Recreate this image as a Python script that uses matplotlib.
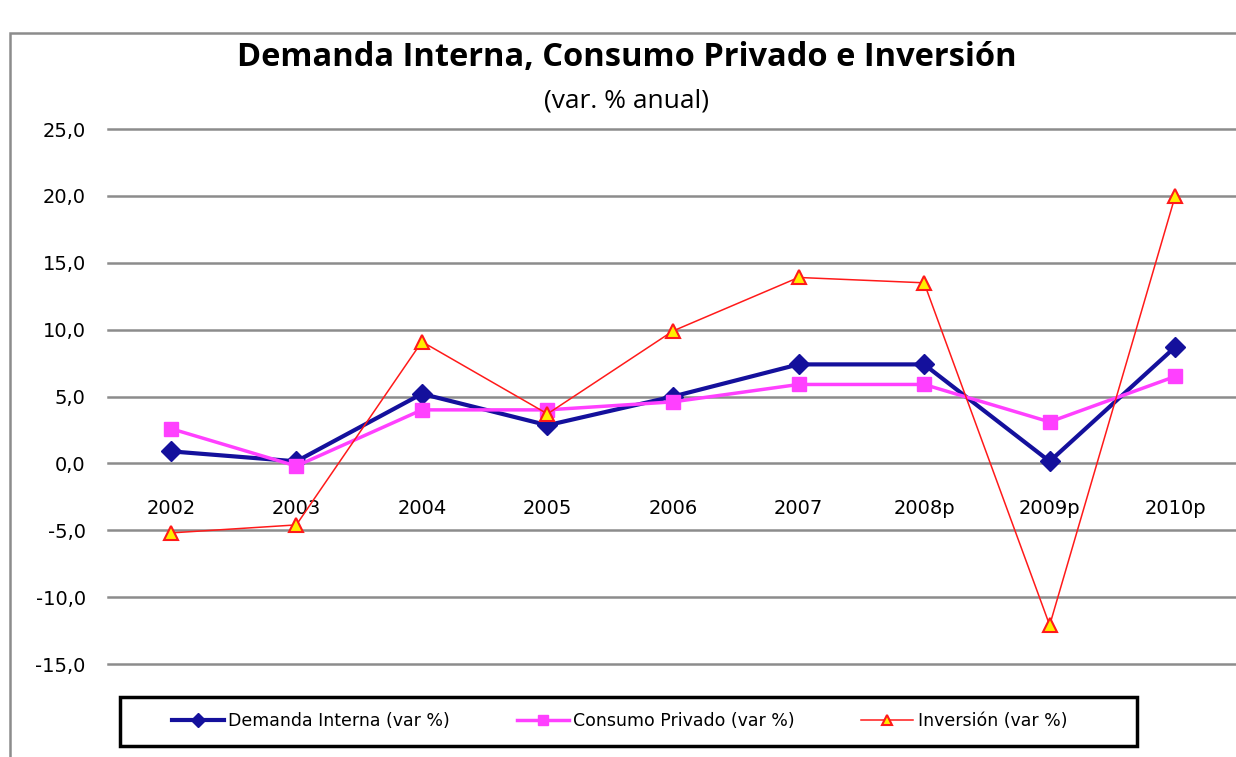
"""
Demanda Interna, Consumo Privado e Inversion (var. % anual)
usage: python plot.py  -> out.png
"""

import matplotlib.pyplot as plt
from matplotlib.patches import Rectangle

# Data
years = ['2002', '2003', '2004', '2005', '2006', '2007', '2008p', '2009p', '2010p']
demanda = [0.9, 0.15, 5.2, 2.85, 5.0, 7.4, 7.4, 0.15, 8.7]
consumo = [2.6, -0.2, 4.0, 4.0, 4.6, 5.9, 5.9, 3.1, 6.5]
inversion = [-5.2, -4.6, 9.1, 3.7, 9.9, 13.9, 13.5, -12.1, 20.0]

y_ticks = [-15, -10, -5, 0, 5, 10, 15, 20, 25]
y_labels = ['-15,0', '-10,0', '-5,0', '0,0', '5,0', '10,0', '15,0', '20,0', '25,0']

W, H = 1236, 757
fig = plt.figure(figsize=(W / 100, H / 100), dpi=100)

# Outer chart border (top and left edges visible)
fig.patches.append(Rectangle((10 / W, -0.05), 1.1, (H - 33) / H + 0.05,
                             transform=fig.transFigure, fill=False,
                             edgecolor='#8c8c8c', linewidth=1.8))

ax = fig.add_axes([108 / W, 93 / H, (1238 - 108) / W, (664 - 129) / H])
x = range(len(years))

ax.plot(x, demanda, color='#14109c', linewidth=3, marker='D', markersize=10,
        label='Demanda Interna (var %)', zorder=3)
ax.plot(x, consumo, color='#ff40ff', linewidth=2.5, marker='s', markersize=10,
        label='Consumo Privado (var %)', zorder=4)
ax.plot(x, inversion, color='#ff1a1a', linewidth=1.1, marker='^', markersize=10,
        markerfacecolor='#ffee00', markeredgecolor='#ff1a1a', markeredgewidth=1.5,
        label='Inversión (var %)', zorder=5)

ax.set_xlim(-0.5, len(years) - 0.5)
ax.set_ylim(-15, 25)
ax.set_yticks(y_ticks)
ax.set_yticklabels(y_labels)
ax.set_xticks(list(x))
ax.set_xticklabels(years)
ax.tick_params(axis='y', length=0, pad=16, labelsize=14)
ax.tick_params(axis='x', length=0, pad=26, labelsize=14)

# category labels hang from the zero line
ax.spines['bottom'].set_position(('data', 0))
for s in ax.spines.values():
    s.set_visible(False)
ax.grid(axis='y', color='#8c8c8c', linewidth=1.8)
for gl in ax.get_ygridlines():
    gl.set_clip_on(False)
ax.set_axisbelow(True)

fig.text(627 / W, 1 - 57 / H, 'Demanda Interna, Consumo Privado e Inversión',
         ha='center', va='center', fontsize=23.5, fontweight='bold',
         family='Open Sans')
fig.text(626 / W, 1 - 101 / H, '(var. % anual)', ha='center', va='center',
         fontsize=19, family='Open Sans')

# legend box drawn by hand, entries spread inside it
fig.patches.append(Rectangle((120 / W, 11 / H), (1137 - 120) / W, 49 / H,
                             transform=fig.transFigure, fill=False,
                             edgecolor='black', linewidth=2.5))
leg = fig.legend(loc='center left',
                 bbox_to_anchor=(172 / W, 16 / H, (1067 - 172) / W, 39 / H),
                 mode='expand', ncol=3, fontsize=12.5, frameon=False,
                 handlelength=3.0, handletextpad=0.25,
                 borderpad=0, borderaxespad=0, markerscale=0.7)

plt.savefig('out.png', dpi=100)
